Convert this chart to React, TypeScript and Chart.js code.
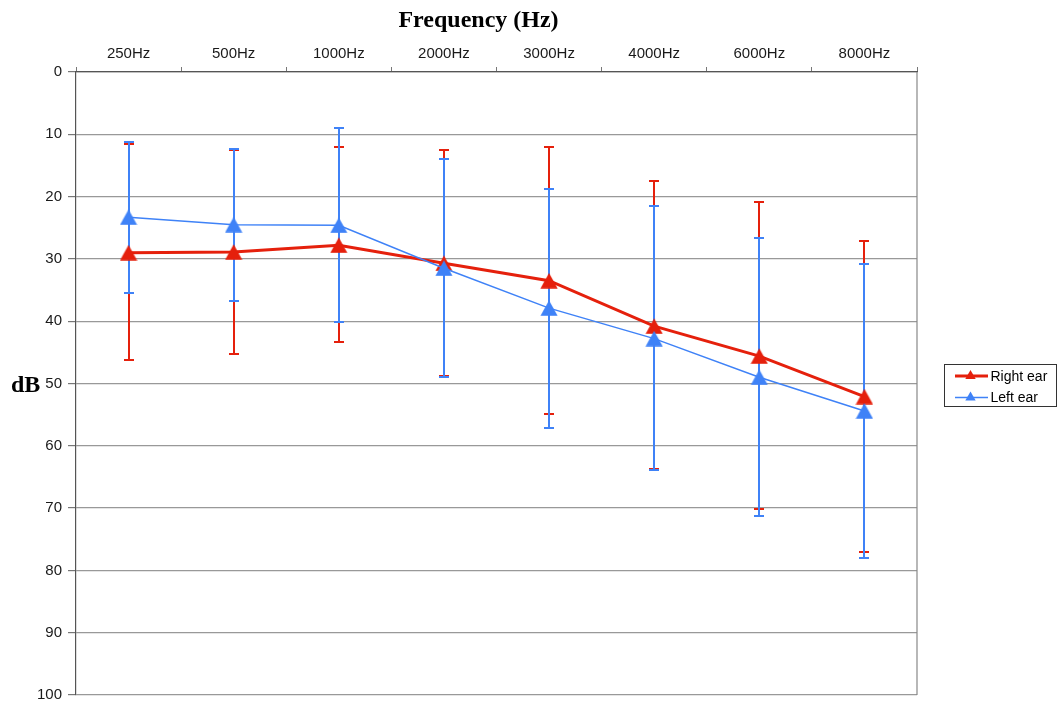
import React, { useEffect, useRef } from 'react';
import { Chart, registerables } from 'chart.js';

Chart.register(...registerables);

// ---- data ----
const frequencies = ['250Hz', '500Hz', '1000Hz', '2000Hz', '3000Hz', '4000Hz', '6000Hz', '8000Hz'];

const rightEar = [29.0, 28.9, 27.8, 30.7, 33.5, 40.8, 45.6, 52.1];
const rightEarTop = [11.6, 12.5, 12.1, 12.6, 12.0, 17.5, 20.9, 27.1];
const rightEarBottom = [46.3, 45.2, 43.4, 48.8, 54.9, 63.8, 70.2, 77.0];

const leftEar = [23.3, 24.5, 24.6, 31.5, 37.9, 42.8, 49.0, 54.4];
const leftEarTop = [11.2, 12.3, 9.0, 14.0, 18.8, 21.5, 26.6, 30.8];
const leftEarBottom = [35.5, 36.8, 40.2, 48.9, 57.1, 63.9, 71.2, 78.0];

const yMin = 0;
const yMax = 100;
const yStep = 10;

const seriesNames = ['Right ear', 'Left ear'];
const chartTitle = 'Frequency (Hz)';
const yTitle = 'dB';

const RED = '#e5200c';
const BLUE = '#3f82f7';

const errorBarPlugin = {
  id: 'errorBars',
  beforeDatasetsDraw(chart: any) {
    const { ctx, scales, chartArea } = chart;
    const x = scales.x;
    const y = scales.y;
    ctx.save();
    // right frame
    ctx.strokeStyle = '#888';
    ctx.lineWidth = 1.2;
    ctx.beginPath();
    ctx.moveTo(chartArea.right, chartArea.top);
    ctx.lineTo(chartArea.right, chartArea.bottom);
    ctx.stroke();

    const sets = [
      { top: rightEarTop, bottom: rightEarBottom, color: RED },
      { top: leftEarTop, bottom: leftEarBottom, color: BLUE },
    ];
    sets.forEach((s) => {
      ctx.strokeStyle = s.color;
      s.top.forEach((t, i) => {
        const px = Math.round(x.getPixelForValue(i));
        const y1 = Math.round(y.getPixelForValue(t));
        const y2 = Math.round(y.getPixelForValue(s.bottom[i]));
        ctx.lineWidth = 2;
        ctx.beginPath();
        ctx.moveTo(px, y1);
        ctx.lineTo(px, y2);
        ctx.moveTo(px - 5, y1);
        ctx.lineTo(px + 5, y1);
        ctx.moveTo(px - 5, y2);
        ctx.lineTo(px + 5, y2);
        ctx.stroke();
      });
    });
    ctx.restore();
  },
};

function drawTriangle(ctx: CanvasRenderingContext2D, cx: number, cy: number, r: number, color: string) {
  ctx.fillStyle = color;
  ctx.beginPath();
  ctx.moveTo(cx, cy - r);
  ctx.lineTo(cx + r * 0.866, cy + r / 2);
  ctx.lineTo(cx - r * 0.866, cy + r / 2);
  ctx.closePath();
  ctx.fill();
}

function makeMarker(color: string) {
  const c = document.createElement('canvas');
  c.width = 18;
  c.height = 16;
  const g = c.getContext('2d')!;
  g.fillStyle = color;
  g.beginPath();
  g.moveTo(9, 0.3);
  g.lineTo(17.6, 15.7);
  g.lineTo(0.4, 15.7);
  g.closePath();
  g.fill();
  return c;
}

const textPlugin = {
  id: 'texts',
  afterDraw(chart: any) {
    const { ctx, chartArea } = chart;
    ctx.save();
    // title
    ctx.fillStyle = '#000';
    ctx.font = 'bold 24px "Liberation Serif", "Times New Roman", serif';
    ctx.textAlign = 'center';
    ctx.textBaseline = 'alphabetic';
    ctx.fillText(chartTitle, (chartArea.left + chartArea.right) / 2 - 18, 27);
    // y title
    ctx.textAlign = 'left';
    ctx.fillText(yTitle, 11, (chartArea.top + chartArea.bottom) / 2 + 8);

    // legend
    const bx = chartArea.right + 27.5;
    const by = 364.5;
    ctx.strokeStyle = '#333';
    ctx.lineWidth = 1;
    ctx.strokeRect(bx, by, 112, 42);
    const rows = [
      { name: seriesNames[0], color: RED, w: 3, y: by + 11.5 },
      { name: seriesNames[1], color: BLUE, w: 1.5, y: by + 33 },
    ];
    ctx.font = '14px "Liberation Sans", Arial, sans-serif';
    ctx.textBaseline = 'middle';
    rows.forEach((r) => {
      ctx.strokeStyle = r.color;
      ctx.lineWidth = r.w;
      ctx.beginPath();
      ctx.moveTo(bx + 10.5, r.y);
      ctx.lineTo(bx + 43.5, r.y);
      ctx.stroke();
      drawTriangle(ctx, bx + 26, r.y, 6, r.color);
      ctx.fillStyle = '#000';
      ctx.fillText(r.name, bx + 46, r.y + 1);
    });
    ctx.restore();
  },
};

export default function App() {
  const ref = useRef<HTMLCanvasElement | null>(null);

  useEffect(() => {
    if (!ref.current) return;
    const tickFont = { family: '"Liberation Sans", Arial, sans-serif', size: 15 };
    const redMarker = makeMarker(RED);
    const blueMarker = makeMarker(BLUE);
    const chart = new Chart(ref.current, {
      type: 'line',
      data: {
        labels: frequencies,
        datasets: [
          {
            label: seriesNames[0],
            data: rightEar,
            borderColor: RED,
            backgroundColor: RED,
            borderWidth: 3,
            pointStyle: redMarker,
            pointRadius: 9,
            tension: 0,
            order: 1,
          },
          {
            label: seriesNames[1],
            data: leftEar,
            borderColor: BLUE,
            backgroundColor: BLUE,
            borderWidth: 1.5,
            pointStyle: blueMarker,
            pointRadius: 9,
            tension: 0,
            order: 0,
          },
        ],
      },
      options: {
        responsive: false,
        animation: false,
        devicePixelRatio: 1,
        layout: { autoPadding: false, padding: { left: 0, top: 0, right: 141, bottom: 9 } },
        scales: {
          x: {
            position: 'top',
            offset: true,
            grid: { offset: true, drawOnChartArea: false, tickLength: 5, color: '#777' },
            border: { color: '#555', width: 1.2 },
            ticks: { padding: 4, font: tickFont, color: '#1a1a1a', maxRotation: 0, autoSkip: false },
            afterFit: (s: any) => {
              s.height = 72;
              s.paddingLeft = 0;
              s.paddingRight = 0;
            },
          },
          y: {
            reverse: true,
            min: yMin,
            max: yMax,
            ticks: { stepSize: yStep, padding: 6, font: tickFont, color: '#1a1a1a' },
            grid: { color: '#999', tickLength: 8, tickColor: '#777', lineWidth: 1.2 },
            border: { color: '#555', width: 1.2 },
            afterFit: (s: any) => {
              s.width = 76;
              s.paddingTop = 0;
              s.paddingBottom = 0;
            },
          },
        },
        plugins: {
          legend: { display: false },
          tooltip: { enabled: false },
        },
      },
      plugins: [errorBarPlugin, textPlugin],
    } as any);
    return () => chart.destroy();
  }, []);

  return (
    <div style={{ position: 'fixed', left: 0, top: 0, width: 1058, height: 704, background: '#fff' }}>
      <canvas ref={ref} width={1058} height={704} style={{ display: 'block' }} />
    </div>
  );
}
